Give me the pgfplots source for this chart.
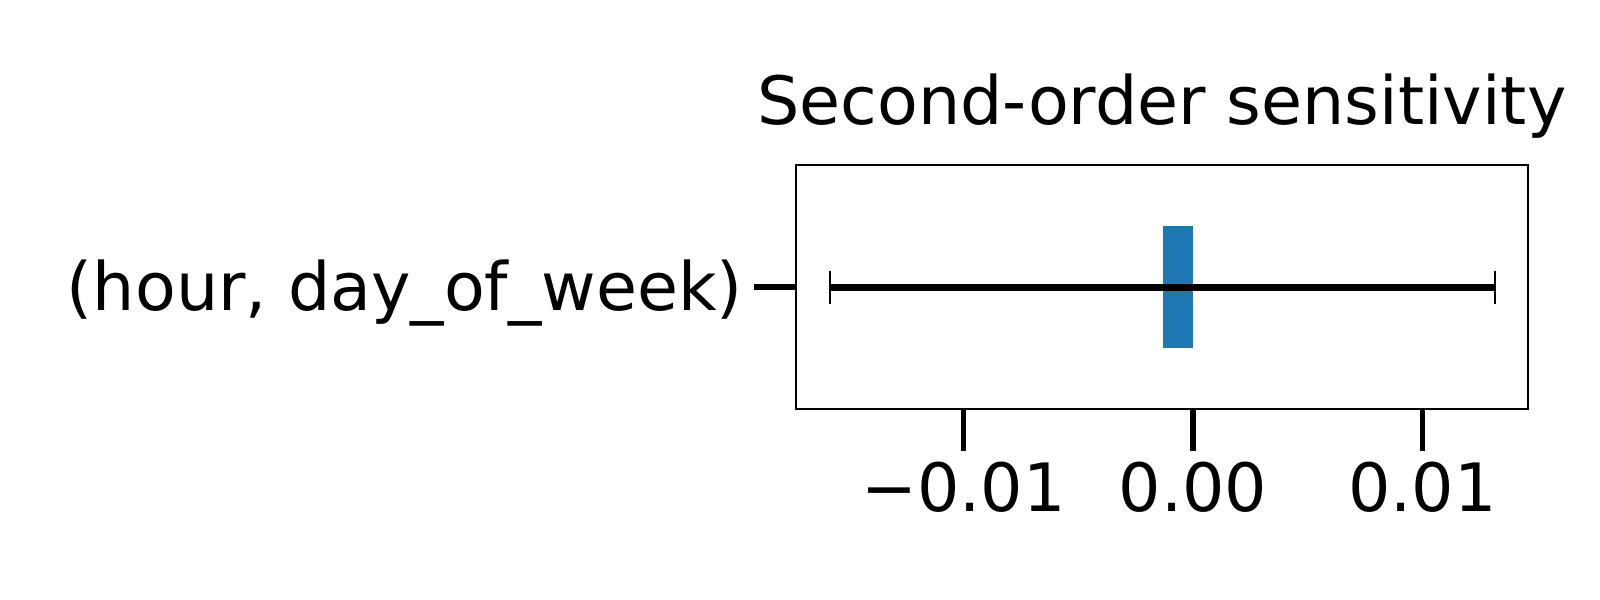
\documentclass[border=0pt]{standalone}
\usepackage{pgfplots}
\pgfplotsset{compat=1.18}
\usepackage{fontspec}
\setmainfont{DejaVu Sans}
\definecolor{mplblue}{HTML}{1F77B4}
\begin{document}
\begin{tikzpicture}
\path[use as bounding box] (-286.6pt,-68.7pt) rectangle (289.4pt,147.3pt);
\begin{axis}[
  at={(0,0)}, anchor=south west,
  scale only axis, width=263.4pt, height=87.8pt,
  xmin=-0.01729, xmax=0.01458, ymin=-1, ymax=1,
  axis line style={line width=0.72pt},
  xtick={-0.01,0,0.01},
  xticklabels={−0.01,0.00,0.01},
  ytick={0},
  yticklabels={(hour, day\_of\_week)},
  tick align=outside, xtick pos=bottom, ytick pos=left,
  major tick length=15pt,
  tick style={line width=2pt, black},
  ticklabel style={font=\fontsize{24}{29}\selectfont},
  xticklabel style={inner sep=0pt, yshift=-4pt},
  yticklabel style={inner sep=0pt, xshift=-4pt, yshift=-2pt},
  title={Second-order sensitivity},
  title style={font=\fontsize{24}{29}\selectfont, yshift=0.2pt},
  scaled x ticks=false,
]
\addplot[xbar, bar width=1, fill=mplblue, draw=none,
  error bars/.cd, x dir=both, x explicit,
  error bar style={line width=2.5pt, black},
  error mark options={rotate=90, line width=0.9pt, mark size=6pt, black}]
  coordinates {(-0.00133,0) +- (0.01449,0)};
\end{axis}
\end{tikzpicture}
\end{document}
